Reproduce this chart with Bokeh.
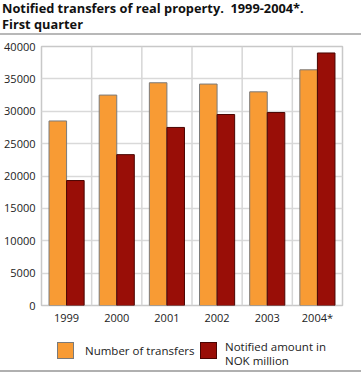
from bokeh.plotting import figure
from bokeh.models import (ColumnDataSource, FactorRange, Span, FixedTicker,
                          NumeralTickFormatter, Div)
from bokeh.layouts import column
from bokeh.transform import dodge
from bokeh.embed import file_html
from bokeh.resources import INLINE

years = ["1999", "2000", "2001", "2002", "2003", "2004*"]
transfers = [28500, 32500, 34400, 34200, 33000, 36400]
amount_nok_mill = [19300, 23300, 27500, 29500, 29800, 39000]
y_ticks = [0, 5000, 10000, 15000, 20000, 25000, 30000, 35000, 40000]
title_lines = ["Notified transfers of real property.&nbsp; 1999-2004*.", "First quarter"]
series_labels = [["Number of transfers"], ["Notified amount in", "NOK million"]]

FONT = "Open Sans"
ORANGE = "#F89B34"
RED = "#990E07"
EDGE = ["#7a7a7a", "#4a0502"]
W = 361

src = ColumnDataSource(dict(year=years, transfers=transfers, amount=amount_nok_mill))

def rule(color):
    return Div(text="", width=W, height=3, margin=(0, 0, 0, 0),
               styles={"border-bottom": f"2px solid {color}", "width": f"{W}px",
                       "height": "3px", "box-sizing": "border-box"})

# ---- title ----
title = Div(text="<br>".join(title_lines), width=W, height=32, margin=(0, 0, 0, 0),
            styles={"font-family": FONT, "font-weight": "bold", "font-size": "12.8px",
                    "line-height": "16px", "color": "#111111", "width": f"{W}px",
                    "height": "32px", "padding": "0 0 0 2px", "box-sizing": "border-box",
                    "white-space": "nowrap"})

# ---- chart ----
BL, BR, BT, BB = 41, 19, 11, 22
FH = 259
p = figure(x_range=FactorRange(factors=years), y_range=(0, 40000),
           width=W, height=BT + FH + BB, output_backend="svg", toolbar_location=None,
           min_border_left=BL, min_border_right=BR, min_border_top=BT, min_border_bottom=BB,
           margin=(0, 0, 0, 0))
p.border_fill_alpha = 0

p.vbar(x=dodge("year", -0.175, range=p.x_range), top="transfers", width=0.35,
       source=src, fill_color=ORANGE, line_color=EDGE[0], line_width=1)
p.vbar(x=dodge("year", 0.175, range=p.x_range), top="amount", width=0.35,
       source=src, fill_color=RED, line_color=EDGE[1], line_width=1)

for i in range(1, len(years)):
    p.add_layout(Span(location=i, dimension="height", line_color="#d6d6d6", line_width=1.5,
                      level="underlay"))

p.xgrid.visible = False
p.ygrid.ticker = FixedTicker(ticks=y_ticks)
p.ygrid.grid_line_color = "#d9d9d9"
p.ygrid.grid_line_width = 1.5
p.outline_line_color = "#c8c8c8"
p.outline_line_width = 1.5

p.yaxis.ticker = FixedTicker(ticks=y_ticks)
p.yaxis.formatter = NumeralTickFormatter(format="0")
for ax in (p.xaxis, p.yaxis):
    ax.axis_line_color = None
    ax.major_tick_line_color = None
    ax.minor_tick_line_color = None
    ax.major_tick_out = 0
    ax.major_tick_in = 0
    ax.minor_tick_out = 0
    ax.major_label_text_font = FONT
    ax.major_label_text_font_size = "11px"
    ax.major_label_text_color = "#222222"
p.yaxis.major_label_standoff = 6
p.xaxis.major_label_standoff = 4

# ---- legend (HTML, below the chart) ----
sw_left = [57, 200]
lab_left = [85, 225]
parts = []
for k, (col, labs) in enumerate(zip([ORANGE, RED], series_labels)):
    parts.append(f'<div style="position:absolute;left:{sw_left[k]}px;top:15px;width:17px;'
                 f'height:17px;background:{col};border:1px solid {EDGE[k]};"></div>')
    if len(labs) == 1:
        parts.append(f'<div style="position:absolute;left:{lab_left[k]}px;top:16px;'
                     f'line-height:15px;white-space:nowrap;">{labs[0]}</div>')
    else:
        parts.append(f'<div style="position:absolute;left:{lab_left[k]}px;top:13px;'
                     f'line-height:14px;white-space:nowrap;">{"<br>".join(labs)}</div>')
legend = Div(text=('<div style="position:relative;width:361px;height:42px;">'
                   + "".join(parts) + "</div>"),
             width=W, height=42, margin=(0, 0, 0, 0),
             styles={"font-family": FONT, "font-size": "11.5px", "color": "#222222",
                     "width": f"{W}px", "height": "42px"})

layout = column(title, rule("#b8b8b8"), p, legend, rule("#b0b0b0"), spacing=0)
open("out.html", "w").write(file_html(layout, INLINE))
